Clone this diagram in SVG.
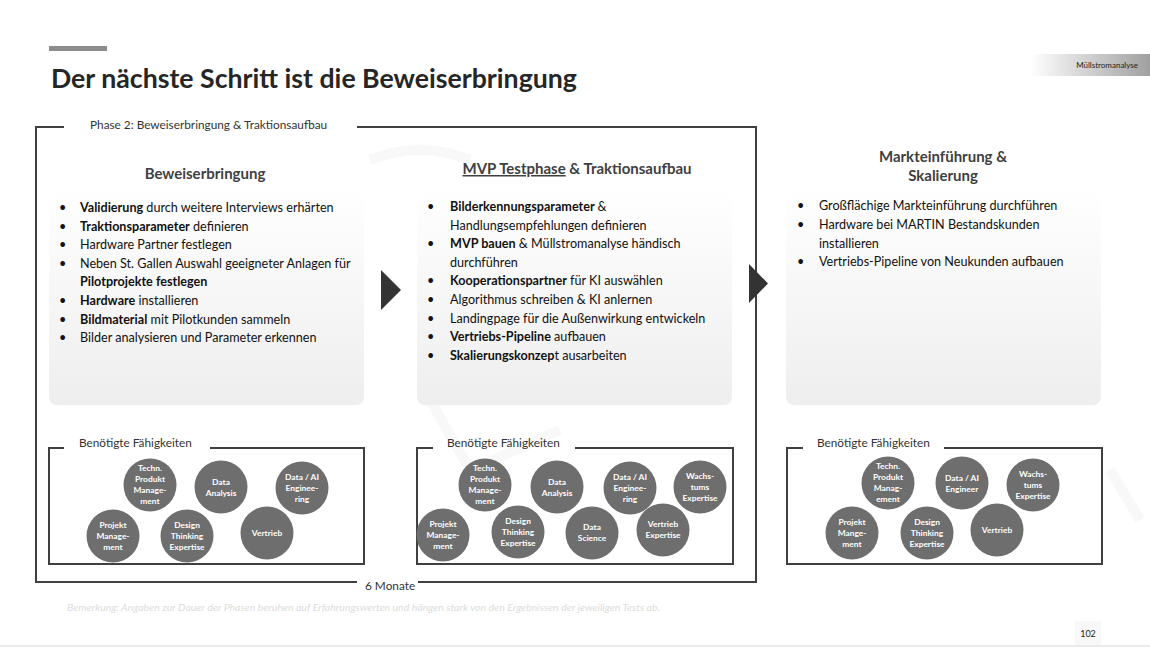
<svg xmlns="http://www.w3.org/2000/svg" width="1150" height="648" viewBox="0 0 1150 648">
<defs>
<linearGradient id="boxg" x1="0" y1="0" x2="0" y2="1">
<stop offset="0" stop-color="#ffffff"/>
<stop offset="1" stop-color="#eeeeee"/>
</linearGradient>
<linearGradient id="tagg" x1="0" y1="0" x2="1" y2="0">
<stop offset="0" stop-color="#ffffff"/>
<stop offset="1" stop-color="#a0a0a0"/>
</linearGradient>
<style>
text{font-family:Lato,"Liberation Sans",sans-serif;}
.title{font-size:26.7px;font-weight:bold;fill:#262626;}
.lbl{font-size:11.8px;fill:#333;}
.hdr{font-size:15px;font-weight:bold;fill:#404040;text-anchor:middle;}
.bl{font-size:12.6px;fill:#111;}
.b{font-weight:bold;}
.frame{fill:none;stroke:#404040;stroke-width:2;}
.box{fill:url(#boxg);}
.arr{fill:#333;}
.c{fill:#6e6e6e;}
.ct{font-size:8.4px;font-weight:bold;fill:#fff;text-anchor:middle;}
.note{font-size:10.4px;font-style:italic;fill:#dcdcdc;}
</style>
</defs>
<rect width="1150" height="648" fill="#fff"/>
<g id="watermark" fill="none" stroke="#f8f8f8" stroke-width="10">
<path d="M 370 160 Q 420 140 470 160"/>
<path d="M 430 400 L 470 470 L 560 430"/>
<path d="M 1110 470 L 1140 520"/>
</g>
<g id="header">
<rect x="49" y="46" width="58" height="5" fill="#8c8c8c"/>
<text class="title" x="51" y="88">Der nächste Schritt ist die Beweiserbringung</text>
<rect x="1030" y="54" width="120" height="22" fill="url(#tagg)"/>
<text x="1138" y="68" font-size="8" fill="#222" text-anchor="end">Müllstromanalyse</text>
</g>
<g id="phase-frame">
<path class="frame" d="M 64 127 L 36 127 L 36 582 L 357 582 M 418 582 L 756 582 L 756 127 L 357 127"/>
<text class="lbl" x="90" y="129">Phase 2: Beweiserbringung &amp; Traktionsaufbau</text>
<text class="lbl" x="365" y="590">6 Monate</text>
</g>
<g id="col1">
<text class="hdr" x="205" y="179">Beweiserbringung</text>
<rect class="box" x="49" y="188" width="315" height="217" rx="8"/>
<g class="bl">
<text x="59" y="212">•</text><text x="80" y="212"><tspan class="b">Validierung</tspan> durch weitere Interviews erhärten</text>
<text x="59" y="230.6">•</text><text x="80" y="230.6"><tspan class="b">Traktionsparameter</tspan> definieren</text>
<text x="59" y="249.2">•</text><text x="80" y="249.2">Hardware Partner festlegen</text>
<text x="59" y="267.8">•</text><text x="80" y="267.8">Neben St. Gallen Auswahl geeigneter Anlagen für</text>
<text x="80" y="286.4" class="b">Pilotprojekte festlegen</text>
<text x="59" y="305">•</text><text x="80" y="305"><tspan class="b">Hardware</tspan> installieren</text>
<text x="59" y="323.6">•</text><text x="80" y="323.6"><tspan class="b">Bildmaterial</tspan> mit Pilotkunden sammeln</text>
<text x="59" y="342.2">•</text><text x="80" y="342.2">Bilder analysieren und Parameter erkennen</text>
</g>
</g>
<g id="arrow1"><polygon class="arr" points="381,270 381,310 401,290"/></g>
<g id="col2">
<text class="hdr" x="577" y="174"><tspan text-decoration="underline">MVP Testphase</tspan> &amp; Traktionsaufbau</text>
<rect class="box" x="417" y="188" width="315" height="217" rx="8"/>
<g class="bl">
<text x="427" y="211">•</text><text x="450" y="211" class="b">Bilderkennungsparameter <tspan font-weight="normal">&amp;</tspan></text>
<text x="450" y="229.6">Handlungsempfehlungen definieren</text>
<text x="427" y="248.2">•</text><text x="450" y="248.2"><tspan class="b">MVP bauen</tspan> &amp; Müllstromanalyse händisch</text>
<text x="450" y="266.8">durchführen</text>
<text x="427" y="285.4">•</text><text x="450" y="285.4"><tspan class="b">Kooperationspartner</tspan> für KI auswählen</text>
<text x="427" y="304">•</text><text x="450" y="304">Algorithmus schreiben &amp; KI anlernen</text>
<text x="427" y="322.6">•</text><text x="450" y="322.6">Landingpage für die Außenwirkung entwickeln</text>
<text x="427" y="341.2">•</text><text x="450" y="341.2"><tspan class="b">Vertriebs-Pipeline</tspan> aufbauen</text>
<text x="427" y="359.8">•</text><text x="450" y="359.8"><tspan class="b">Skalierungskonzep</tspan>t ausarbeiten</text>
</g>
</g>
<g id="arrow2"><polygon class="arr" points="749,264 749,303 768,283.5"/></g>
<g id="col3">
<text class="hdr" x="943" y="162">Markteinführung &amp;</text>
<text class="hdr" x="943" y="181">Skalierung</text>
<rect class="box" x="786" y="188" width="315" height="217" rx="8"/>
<g class="bl">
<text x="797" y="210">•</text><text x="819" y="210">Großflächige Markteinführung durchführen</text>
<text x="797" y="228.8">•</text><text x="819" y="228.8">Hardware bei MARTIN Bestandskunden</text>
<text x="819" y="247.6">installieren</text>
<text x="797" y="266.4">•</text><text x="819" y="266.4">Vertriebs-Pipeline von Neukunden aufbauen</text>
</g>
</g>
<g id="skills1">
<path class="frame" d="M 64 448 L 49 448 L 49 564 L 364 564 L 364 448 L 210 448"/>
<text class="lbl" x="79" y="447">Benötigte Fähigkeiten</text>
<circle class="c" cx="150" cy="485" r="26.5"/><text class="ct" x="150" y="471">Techn.<tspan x="150" dy="11">Produkt</tspan><tspan x="150" dy="11">Manage-</tspan><tspan x="150" dy="11">ment</tspan></text>
<circle class="c" cx="221" cy="487" r="26.5"/><text class="ct" x="221" y="485">Data<tspan x="221" dy="11">Analysis</tspan></text>
<circle class="c" cx="302" cy="488" r="26.5"/><text class="ct" x="302" y="480">Data / AI<tspan x="302" dy="11">Enginee-</tspan><tspan x="302" dy="11">ring</tspan></text>
<circle class="c" cx="113" cy="536" r="26.5"/><text class="ct" x="113" y="528">Projekt<tspan x="113" dy="11">Manage-</tspan><tspan x="113" dy="11">ment</tspan></text>
<circle class="c" cx="187" cy="536" r="26.5"/><text class="ct" x="187" y="528">Design<tspan x="187" dy="11">Thinking</tspan><tspan x="187" dy="11">Expertise</tspan></text>
<circle class="c" cx="267" cy="533" r="26.5"/><text class="ct" x="267" y="536">Vertrieb</text>
</g>
<g id="skills2">
<path class="frame" d="M 433 448 L 417 448 L 417 564 L 733 564 L 733 448 L 575 448"/>
<text class="lbl" x="447" y="447">Benötigte Fähigkeiten</text>
<circle class="c" cx="485" cy="485" r="26.5"/><text class="ct" x="485" y="471">Techn.<tspan x="485" dy="11">Produkt</tspan><tspan x="485" dy="11">Manage-</tspan><tspan x="485" dy="11">ment</tspan></text>
<circle class="c" cx="557" cy="487" r="26.5"/><text class="ct" x="557" y="485">Data<tspan x="557" dy="11">Analysis</tspan></text>
<circle class="c" cx="630" cy="488" r="26.5"/><text class="ct" x="630" y="480">Data / AI<tspan x="630" dy="11">Enginee-</tspan><tspan x="630" dy="11">ring</tspan></text>
<circle class="c" cx="700" cy="487" r="26.5"/><text class="ct" x="700" y="479">Wachs-<tspan x="700" dy="11">tums</tspan><tspan x="700" dy="11">Expertise</tspan></text>
<circle class="c" cx="443" cy="535" r="26.5"/><text class="ct" x="443" y="527">Projekt<tspan x="443" dy="11">Manage-</tspan><tspan x="443" dy="11">ment</tspan></text>
<circle class="c" cx="518" cy="532" r="26.5"/><text class="ct" x="518" y="524">Design<tspan x="518" dy="11">Thinking</tspan><tspan x="518" dy="11">Expertise</tspan></text>
<circle class="c" cx="592" cy="533" r="26.5"/><text class="ct" x="592" y="530">Data<tspan x="592" dy="11">Science</tspan></text>
<circle class="c" cx="663" cy="530" r="26.5"/><text class="ct" x="663" y="527">Vertrieb<tspan x="663" dy="11">Expertise</tspan></text>
</g>
<g id="skills3">
<path class="frame" d="M 803 448 L 787 448 L 787 564 L 1102 564 L 1102 448 L 944 448"/>
<text class="lbl" x="817" y="447">Benötigte Fähigkeiten</text>
<circle class="c" cx="888" cy="483" r="26.5"/><text class="ct" x="888" y="469">Techn.<tspan x="888" dy="11">Produkt</tspan><tspan x="888" dy="11">Manag-</tspan><tspan x="888" dy="11">ement</tspan></text>
<circle class="c" cx="962" cy="483" r="26.5"/><text class="ct" x="962" y="481">Data / AI<tspan x="962" dy="11">Engineer</tspan></text>
<circle class="c" cx="1033" cy="485" r="26.5"/><text class="ct" x="1033" y="477">Wachs-<tspan x="1033" dy="11">tums</tspan><tspan x="1033" dy="11">Expertise</tspan></text>
<circle class="c" cx="852" cy="533" r="26.5"/><text class="ct" x="852" y="525">Projekt<tspan x="852" dy="11">Mange-</tspan><tspan x="852" dy="11">ment</tspan></text>
<circle class="c" cx="927" cy="533" r="26.5"/><text class="ct" x="927" y="525">Design<tspan x="927" dy="11">Thinking</tspan><tspan x="927" dy="11">Expertise</tspan></text>
<circle class="c" cx="997" cy="530" r="26.5"/><text class="ct" x="997" y="533">Vertrieb</text>
</g>
<g id="footer">
<text class="note" x="67" y="611" textLength="593" lengthAdjust="spacingAndGlyphs">Bemerkung: Angaben zur Dauer der Phasen beruhen auf Erfahrungswerten und hängen stark von den Ergebnissen der jeweiligen Tests ab.</text>
<line x1="0" y1="646" x2="1150" y2="646" stroke="#e4e4e4" stroke-width="1.5"/>
<rect x="1075" y="621" width="26" height="24" fill="#f8f8f8"/>
<text x="1088" y="637" font-size="9" fill="#222" text-anchor="middle">102</text>
</g>
</svg>
